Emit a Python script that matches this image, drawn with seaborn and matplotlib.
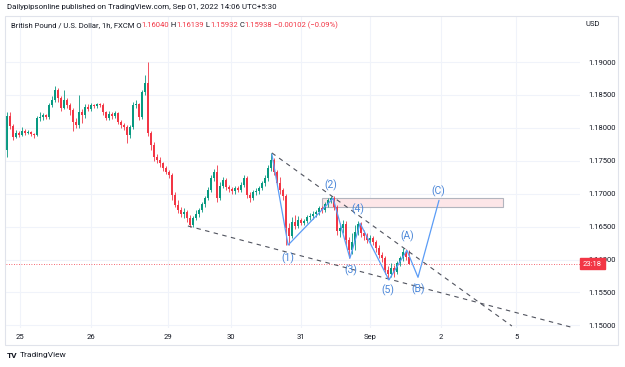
import matplotlib
matplotlib.use("Agg")
import matplotlib.pyplot as plt
import seaborn as sns
import pandas as pd
from matplotlib.patches import Rectangle
from matplotlib.transforms import blended_transform_factory, offset_copy

sns.set_theme(style="white")
plt.rcParams["font.family"] = ["Roboto", "DejaVu Sans"]

# %% hourly GBP/USD candles (bar 0 = first candle on Aug 24)
first_open = 1.1766
closes = [
    1.1818, 1.1803, 1.1786, 1.1792, 1.1789, 1.1795, 1.1792, 1.1794, 1.1791, 1.1789,
    1.1815, 1.1816, 1.1819, 1.1816, 1.1835, 1.1842, 1.1857, 1.1845, 1.1830, 1.1842,
    1.1835, 1.1827, 1.1809, 1.1804, 1.1824, 1.1819, 1.1832, 1.1829, 1.1835, 1.1833,
    1.1836, 1.1835, 1.1824, 1.1815, 1.1821, 1.1818, 1.1822, 1.1809, 1.1804, 1.1801,
    1.1789, 1.1801, 1.1835, 1.1836, 1.1816, 1.1854, 1.1868, 1.1792, 1.1774, 1.1756,
    1.1751, 1.1746, 1.1739, 1.1733, 1.1728, 1.1698, 1.1683, 1.1675, 1.1669, 1.1672,
    1.1663, 1.1652, 1.1663, 1.1669, 1.1675, 1.1684, 1.1693, 1.1705, 1.1724, 1.1733,
    1.1693, 1.1712, 1.1721, 1.1710, 1.1707, 1.1704, 1.1709, 1.1705, 1.1713, 1.1724,
    1.1698, 1.1693, 1.1702, 1.1704, 1.1709, 1.1716, 1.1724, 1.1739, 1.1751, 1.1733,
    1.1716, 1.1705, 1.1696, 1.1648, 1.1636, 1.1657, 1.1651, 1.1660, 1.1655, 1.1658,
    1.1664, 1.1666, 1.1669, 1.1672, 1.1678, 1.1675, 1.1684, 1.1690, 1.1693, 1.1680,
    1.1643, 1.1648, 1.1654, 1.1629, 1.1614, 1.1626, 1.1642, 1.1654, 1.1640, 1.1636,
    1.1629, 1.1633, 1.1626, 1.1617, 1.1607, 1.1602, 1.1584, 1.1578, 1.1587, 1.1581,
    1.1594, 1.1602, 1.1612, 1.1604, 1.15938,
]
highs = [
    1.1824, 1.1824, 1.1806, 1.1797, 1.1795, 1.1801, 1.1798, 1.1797, 1.1796, 1.1793,
    1.1818, 1.1824, 1.1822, 1.1821, 1.1838, 1.1848, 1.1864, 1.1860, 1.1848, 1.1857,
    1.1845, 1.1838, 1.1830, 1.1815, 1.1850, 1.1828, 1.1836, 1.1836, 1.1838, 1.1837,
    1.1838, 1.1838, 1.1838, 1.1826, 1.1825, 1.1824, 1.1825, 1.1824, 1.1812, 1.1807,
    1.1804, 1.1804, 1.1840, 1.1842, 1.1838, 1.1857, 1.1880, 1.1900, 1.1796, 1.1778,
    1.1760, 1.1756, 1.1748, 1.1742, 1.1736, 1.1731, 1.1702, 1.1690, 1.1680, 1.1678,
    1.1676, 1.1668, 1.1666, 1.1675, 1.1679, 1.1688, 1.1697, 1.1710, 1.1728, 1.1738,
    1.1743, 1.1718, 1.1726, 1.1724, 1.1714, 1.1710, 1.1712, 1.1712, 1.1718, 1.1728,
    1.1727, 1.1702, 1.1706, 1.1708, 1.1712, 1.1720, 1.1728, 1.1744, 1.1762, 1.1755,
    1.1736, 1.1726, 1.1708, 1.1700, 1.1655, 1.1665, 1.1668, 1.1666, 1.1663, 1.1662,
    1.1668, 1.1670, 1.1673, 1.1676, 1.1682, 1.1682, 1.1688, 1.1694, 1.1696, 1.1696,
    1.1683, 1.1656, 1.1660, 1.1658, 1.1635, 1.1640, 1.1652, 1.1658, 1.1657, 1.1645,
    1.1640, 1.1638, 1.1636, 1.1630, 1.1622, 1.1612, 1.1606, 1.1590, 1.1594, 1.1592,
    1.1598, 1.1606, 1.1617, 1.1616, 1.16139,
]
lows = [
    1.1756, 1.1798, 1.1781, 1.1784, 1.1786, 1.1787, 1.1789, 1.1790, 1.1788, 1.1784,
    1.1787, 1.1810, 1.1812, 1.1813, 1.1814, 1.1831, 1.1840, 1.1840, 1.1826, 1.1828,
    1.1830, 1.1820, 1.1795, 1.1800, 1.1800, 1.1808, 1.1815, 1.1826, 1.1826, 1.1830,
    1.1830, 1.1832, 1.1820, 1.1812, 1.1812, 1.1814, 1.1815, 1.1806, 1.1800, 1.1797,
    1.1777, 1.1784, 1.1798, 1.1830, 1.1812, 1.1814, 1.1850, 1.1788, 1.1766, 1.1750,
    1.1746, 1.1741, 1.1735, 1.1730, 1.1724, 1.1690, 1.1680, 1.1670, 1.1665, 1.1663,
    1.1657, 1.1650, 1.1650, 1.1660, 1.1665, 1.1672, 1.1680, 1.1690, 1.1702, 1.1720,
    1.1688, 1.1690, 1.1708, 1.1706, 1.1703, 1.1700, 1.1700, 1.1702, 1.1702, 1.1710,
    1.1694, 1.1688, 1.1690, 1.1698, 1.1700, 1.1705, 1.1712, 1.1720, 1.1735, 1.1728,
    1.1712, 1.1700, 1.1690, 1.1622, 1.1622, 1.1632, 1.1646, 1.1648, 1.1652, 1.1652,
    1.1655, 1.1660, 1.1662, 1.1665, 1.1668, 1.1670, 1.1672, 1.1680, 1.1686, 1.1676,
    1.1638, 1.1635, 1.1640, 1.1620, 1.1602, 1.1608, 1.1615, 1.1638, 1.1635, 1.1630,
    1.1625, 1.1625, 1.1622, 1.1612, 1.1603, 1.1596, 1.1578, 1.1570, 1.1574, 1.1574,
    1.1578, 1.1590, 1.1598, 1.1600, 1.15932,
]

day_labels = ["25", "26", "29", "30", "31", "Sep", "2", "5"]
day_bars = [4.3, 28, 53.7, 74.7, 98, 121, 144.7, 169.7]
price_ticks = [1.150, 1.155, 1.160, 1.165, 1.170, 1.175, 1.180, 1.185, 1.190]
last_price = 1.15938

# elliott wave drawing
wave_bars = [88.3, 93.7, 108.7, 114.3, 117.7, 127.3, 133.3, 137.0, 144.0]
wave_prices = [1.1760, 1.1622, 1.1693, 1.1602, 1.1655, 1.1569, 1.1614, 1.1573, 1.1690]
lower_trend = ([60.3, 188.3], [1.1651, 1.1497])
upper_trend = ([88.3, 168.3], [1.1762, 1.1499])
zone_bars = (105.0, 165.3)
zone_prices = (1.1680, 1.1693)

df = pd.DataFrame({"close": closes, "high": highs, "low": lows})
df["open"] = [first_open] + closes[:-1]
df["bar"] = range(len(df))
df["up"] = df["close"] >= df["open"]

GREEN = "#089981"
RED = "#f23645"
BLUE = "#5b9cf6"
TXT = "#131722"

fig = plt.figure(figsize=(6.25, 3.67), dpi=100)
ax = fig.add_axes([6 / 625, 39 / 367, 574 / 625, 312 / 367])

colors = [GREEN if u else RED for u in df["up"]]
ax.vlines(df["bar"], df["low"], df["high"], colors=colors, linewidth=0.6, zorder=3)
body_lo = df[["open", "close"]].min(axis=1)
body_h = (df["close"] - df["open"]).abs().clip(lower=0.00006)
ax.bar(df["bar"], body_h, bottom=body_lo, width=0.72, color=colors, linewidth=0, zorder=4)

# trend lines
ax.plot(*lower_trend, color="#50535e", lw=0.8, ls=(0, (4, 4)), zorder=5)
ax.plot(*upper_trend, color="#50535e", lw=0.8, ls=(0, (4, 4)), zorder=5)

# target zone
ax.add_patch(Rectangle((zone_bars[0], zone_prices[0]), zone_bars[1] - zone_bars[0],
                       zone_prices[1] - zone_prices[0], facecolor="#fde6e8",
                       edgecolor="#b2b5be", lw=0.8, zorder=2))

# wave path
wave = pd.DataFrame({"bar": wave_bars, "price": wave_prices})
sns.lineplot(data=wave, x="bar", y="price", sort=False, color=BLUE, lw=0.9, ax=ax, zorder=6)

labels = [("(1)", 93.5, 1.1602), ("(2)", 107.8, 1.1713), ("(3)", 114.7, 1.1584),
          ("(4)", 117.0, 1.1676), ("(5)", 127.0, 1.1553), ("(A)", 133.3, 1.1636),
          ("(B)", 137.0, 1.1555), ("(C)", 143.7, 1.1704)]
for t, b, p in labels:
    ax.text(b, p, t, color="#4a86d8", fontsize=7.5, ha="center", va="center", zorder=7)

ax.axhline(last_price, color=RED, lw=0.6, ls=(0, (1, 2)), zorder=1)

ax.set_xlim(-0.33, 191)
ax.set_ylim(1.1496, 1.1970)
ax.set_xticks(day_bars)
ax.set_xticklabels(day_labels)
ax.set_yticks(price_ticks)
ax.set_yticklabels([f"{p:.5f}" for p in price_ticks])
ax.yaxis.tick_right()
ax.tick_params(axis="y", length=0, pad=6, labelsize=5.5, labelcolor=TXT)
ax.tick_params(axis="x", length=0, pad=4, labelsize=5.5, labelcolor=TXT)
ax.grid(True, color="#f0f3fa", lw=0.8)
ax.set_xlabel("")
ax.set_ylabel("")
for s in ax.spines.values():
    s.set_visible(False)

# last price tag
tr = blended_transform_factory(ax.transAxes, ax.transData)
ax.text(1.0, last_price, "23:18", transform=offset_copy(tr, fig=fig, x=3, y=0, units="dots"),
        color="white", fontsize=5.5, ha="left", va="center", zorder=10, clip_on=False,
        bbox=dict(boxstyle="square,pad=0.35", fc=RED, ec=RED))

# frame around chart + price scale
fig.patches.append(Rectangle((5 / 625, 22 / 367), 613 / 625, 329 / 367, transform=fig.transFigure,
                             fill=False, ec="#e0e3eb", lw=0.8))

fig.text(7 / 625, 1 - 7 / 367, "Dailypipsonline published on TradingView.com, Sep 01, 2022 14:06 UTC+5:30",
         fontsize=5.7, color=TXT, va="center", ha="left")
fig.text(585 / 625, 1 - 24 / 367, "USD", fontsize=5.5, color=TXT, va="center", ha="left")

# header with coloured values
pieces = [("British Pound / U.S. Dollar, 1h, FXCM O", TXT), ("1.16040", RED), (" H", TXT),
          ("1.16139", RED), (" L", TXT), ("1.15932", RED), (" C", TXT), ("1.15938", RED),
          (" \u22120.00102 (\u22120.09%)", RED)]
renderer = fig.canvas.get_renderer()
x = 11
for s, c in pieces:
    t = fig.text(x / 625, 1 - 25 / 367, s, fontsize=5.5, color=c, va="center", ha="left")
    x += t.get_window_extent(renderer).width

fig.text(7 / 625, 1 - 355 / 367, "TV", fontsize=6, weight="bold", color=TXT, va="center")
fig.text(20 / 625, 1 - 355 / 367, "TradingView", fontsize=6, color=TXT, va="center")

fig.savefig("out.png", dpi=100)
